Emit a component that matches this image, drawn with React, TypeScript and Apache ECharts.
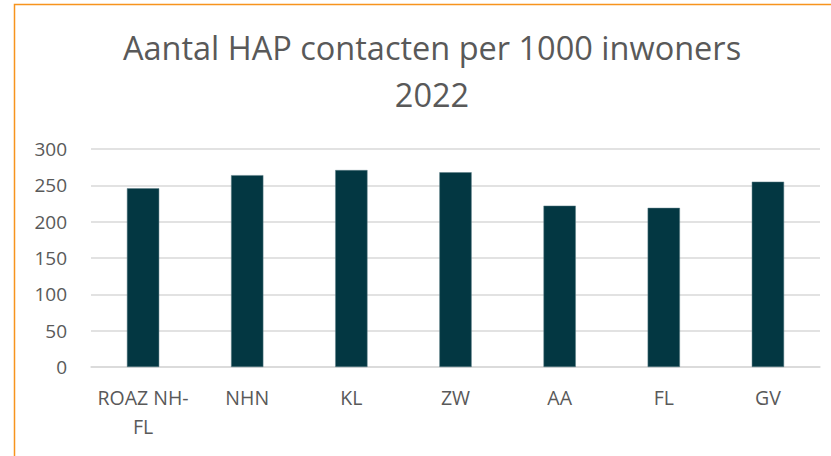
import React, { useEffect, useRef } from "react";
import * as echarts from "echarts";

const titleText = "Aantal HAP contacten per 1000 inwoners\n2022";
const categories = ["ROAZ NH-FL", "NHN", "KL", "ZW", "AA", "FL", "GV"];
const values = [246, 264, 271, 268, 222, 219, 255];
const yTicks = [0, 50, 100, 150, 200, 250, 300];

const FONT = "'Open Sans', 'Noto Sans', sans-serif";

export default function App() {
  const ref = useRef<HTMLDivElement>(null);
  useEffect(() => {
    if (!ref.current) return;
    const chart = echarts.init(ref.current, undefined, { renderer: "svg" });
    chart.setOption({
      animation: false,
      backgroundColor: "#ffffff",
      title: {
        text: titleText,
        left: 427,
        textAlign: "center",
        top: 19,
        padding: 5,
        textStyle: {
          fontFamily: FONT,
          fontSize: 32.5,
          fontWeight: "normal",
          color: "#595959",
          lineHeight: 47,
        },
      },
      grid: { left: 91, right: 11, top: 149, bottom: 89, containLabel: false },
      xAxis: {
        type: "category",
        data: categories,
        axisLine: { show: true, lineStyle: { color: "#d9d9d9", width: 1.5 } },
        axisTick: { show: false },
        axisLabel: {
          color: "#595959",
          fontFamily: FONT,
          fontSize: 19.5,
          margin: 16,
          lineHeight: 29,
          interval: 0,
          formatter: (v: string) => v.replace("NH-", "NH-\n"),
        },
      },
      yAxis: {
        type: "value",
        min: yTicks[0],
        max: yTicks[yTicks.length - 1],
        interval: 50,
        axisLine: { show: false },
        axisTick: { show: false },
        splitLine: { lineStyle: { color: "#d9d9d9", width: 1.5 } },
        axisLabel: {
          color: "#595959",
          fontFamily: FONT,
          fontSize: 19,
          margin: 24,
        },
      },
      series: [
        {
          type: "bar",
          data: values,
          barWidth: "31%",
          itemStyle: { color: "#033742", borderColor: "#5d7f87", borderWidth: 0.5 },
        },
      ],
      graphic: [
        {
          type: "polyline",
          shape: { points: [[14.5, 460], [14.5, 4.5], [835, 4.5]] },
          style: { stroke: "#f7941d", lineWidth: 1.5, fill: "none" },
          z: 100,
        },
      ],
    });
    return () => chart.dispose();
  }, []);
  return (
    <div
      ref={ref}
      style={{ position: "fixed", left: 0, top: 0, width: 831, height: 456 }}
    />
  );
}
